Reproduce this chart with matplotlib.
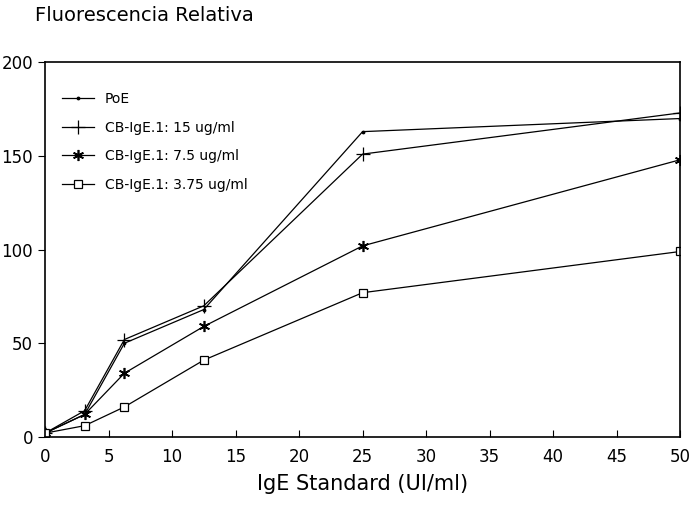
import matplotlib.pyplot as plt

# data
ige = [0, 3.125, 6.25, 12.5, 25, 50]
poe = [2, 12, 50, 68, 163, 170]
cb_15 = [2, 14, 52, 70, 151, 173]
cb_75 = [2, 12, 34, 59, 102, 148]
cb_375 = [2, 6, 16, 41, 77, 99]

labels = ['PoE', 'CB-IgE.1: 15 ug/ml', 'CB-IgE.1: 7.5 ug/ml', 'CB-IgE.1: 3.75 ug/ml']

fig = plt.figure(figsize=(6.92, 5.11), dpi=100)
ax = fig.add_axes([0.065, 0.145, 0.918, 0.733])

lw = 0.9
ax.plot(ige, poe, color='black', lw=lw, marker='.', markersize=3.5, label=labels[0])
ax.plot(ige, cb_15, color='black', lw=lw, marker='+', markersize=10, mew=0.9, label=labels[1])
ax.plot(ige, cb_75, color='black', lw=lw, marker=(6, 2, 0), markersize=8, mew=1.2, label=labels[2])
ax.plot(ige, cb_375, color='black', lw=lw, marker='s', markersize=6, mfc='white', mew=0.9, label=labels[3])

ax.set_xlim(0, 50)
ax.set_ylim(0, 200)
ax.set_xticks(range(0, 51, 5))
ax.set_yticks(range(0, 201, 50))
ax.tick_params(axis='x', direction='in', length=5, labelsize=12, pad=8)
ax.tick_params(axis='y', direction='out', length=5, labelsize=12)
for s in ax.spines.values():
    s.set_linewidth(1.2)

ax.set_xlabel('IgE Standard (UI/ml)', fontsize=15, labelpad=6)
fig.text(0.05, 0.97, 'Fluorescencia Relativa', fontsize=14, ha='left', va='center')

leg = ax.legend(loc='upper left', frameon=False, fontsize=10, handlelength=2.3,
                labelspacing=1.05, borderaxespad=0.8, bbox_to_anchor=(0.0, 0.965))

fig.savefig('out.png', dpi=100)
